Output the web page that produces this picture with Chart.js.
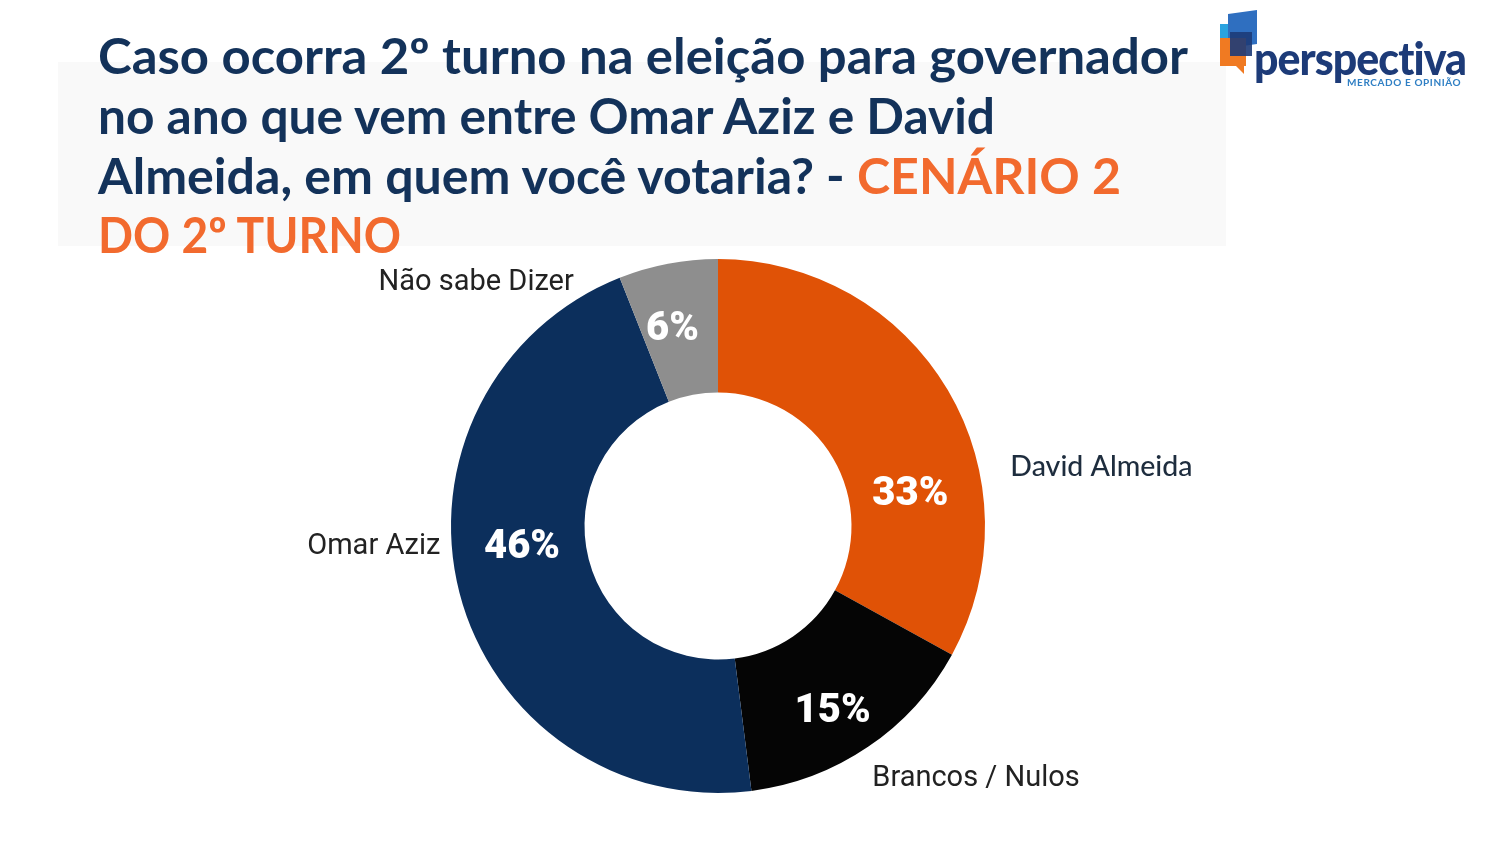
<!DOCTYPE html>
<html>
<head>
<meta charset="utf-8">
<script src="https://cdn.jsdelivr.net/npm/chart.js@4.4.1/dist/chart.umd.min.js"></script>
<style>
  html,body{margin:0;padding:0;background:#ffffff;}
  #wrap{position:relative;width:1500px;height:844px;overflow:hidden;background:#fff;}
  #band{position:absolute;left:58px;top:62px;width:1168px;height:184px;background:#f9f9f9;}
  #c{position:absolute;left:0;top:0;}
  .tl{position:absolute;left:98px;font-family:Lato,"Open Sans",sans-serif;font-weight:700;font-size:50px;color:#13325a;white-space:nowrap;transform-origin:0 0;line-height:1;}
  .or{color:#f26a2e;}
  .sq{position:absolute;}
  #lt{position:absolute;left:1254px;top:35px;font-family:Lato,sans-serif;font-weight:900;font-size:46px;color:#1d3b78;letter-spacing:-1px;line-height:1;transform-origin:0 0;}
  #ls{position:absolute;left:1347px;top:77px;font-family:Lato,sans-serif;font-weight:700;font-size:10px;color:#2f7fc4;letter-spacing:0.6px;line-height:1;}
</style>
</head>
<body>
<div id="wrap">
  <div id="band"></div>
  <canvas id="c" width="1500" height="844"></canvas>
  <div class="tl" data-w="1090" style="top:30px">Caso ocorra 2º turno na eleição para governador</div>
  <div class="tl" data-w="897" style="top:90px">no ano que vem entre Omar Aziz e David</div>
  <div class="tl" data-w="1023" style="top:150px">Almeida, em quem você votaria? - <span class="or">CENÁRIO 2</span></div>
  <div class="tl or" data-w="303" style="top:209px">DO 2º TURNO</div>
  <div class="sq" style="left:1220px;top:24px;width:24px;height:30px;background:#2aa3e0;"></div>
  <div class="sq" style="left:1228px;top:12px;width:29px;height:34px;background:#2f6fc0;transform:skewY(-8deg);"></div>
  <div class="sq" style="left:1220px;top:38px;width:26px;height:28px;background:#f07a22;"></div>
  <div class="sq" style="left:1230px;top:32px;width:22px;height:24px;background:#1d3b78;opacity:0.9;"></div>
  <div class="sq" style="left:1236px;top:66px;width:0;height:0;border-left:8px solid transparent;border-top:8px solid #f07a22;"></div>
  <div id="lt" data-w="212">perspectiva</div>
  <div id="ls">MERCADO E OPINIÃO</div>
</div>
<script>
const categories = ["David Almeida", "Brancos / Nulos", "Omar Aziz", "Não sabe Dizer"];
const values = [33, 15, 46, 6];
const valueLabels = ["33%", "15%", "46%", "6%"];
const colors = ["#e05206", "#050505", "#0c2f5c", "#8e8e8e"];

// label styling / placement (relative to chart centre, in units of outer radius)
const pctNudge = [[20, 71], [2, 20], [-2, -28], [-8, 1]];
const catAnchor = [
  {fx: 1.095, fy: -0.22, align: "left", font: "500 28.5px Lato, 'Open Sans', sans-serif", color: "#1e2d3e"},
  {fx: 0.578, fy: 0.945, align: "left", font: "400 29px Roboto, sans-serif", color: "#222"},
  {fx: -1.04, fy: 0.078, align: "right", font: "400 29px Roboto, sans-serif", color: "#222"},
  {fx: -0.54, fy: -0.91, align: "right", font: "400 29px Roboto, sans-serif", color: "#222"}
];

// fit title lines to widths
document.querySelectorAll('.tl,#lt').forEach(el=>{
  const w = el.getBoundingClientRect().width;
  const t = parseFloat(el.dataset.w);
  el.style.transform = 'scaleX(' + (t / w) + ')';
});

const labelPlugin = {
  id: 'labels',
  afterDatasetsDraw(chart) {
    const ctx = chart.ctx;
    const meta = chart.getDatasetMeta(0);
    meta.data.forEach((arc, i) => {
      const p = arc.tooltipPosition();
      ctx.save();
      ctx.font = "900 40px Roboto, sans-serif";
      ctx.fillStyle = "#ffffff";
      ctx.textAlign = "center";
      ctx.textBaseline = "middle";
      ctx.fillText(valueLabels[i], p.x + pctNudge[i][0], p.y + pctNudge[i][1]);
      const a = catAnchor[i];
      const R = arc.outerRadius;
      ctx.font = a.font;
      ctx.fillStyle = a.color;
      ctx.textAlign = a.align;
      ctx.fillText(categories[i], arc.x + a.fx * R, arc.y + a.fy * R);
      ctx.restore();
    });
  }
};

new Chart(document.getElementById('c'), {
  type: 'doughnut',
  data: {
    labels: categories,
    datasets: [{
      data: values,
      backgroundColor: colors,
      borderWidth: 0,
      hoverOffset: 0
    }]
  },
  options: {
    responsive: false,
    animation: false,
    cutout: '50%',
    layout: {padding: {left: 451, right: 515, top: 258, bottom: 50}},
    plugins: {legend: {display: false}, tooltip: {enabled: false}, title: {display: false}}
  },
  plugins: [labelPlugin]
});
</script>
</body>
</html>
